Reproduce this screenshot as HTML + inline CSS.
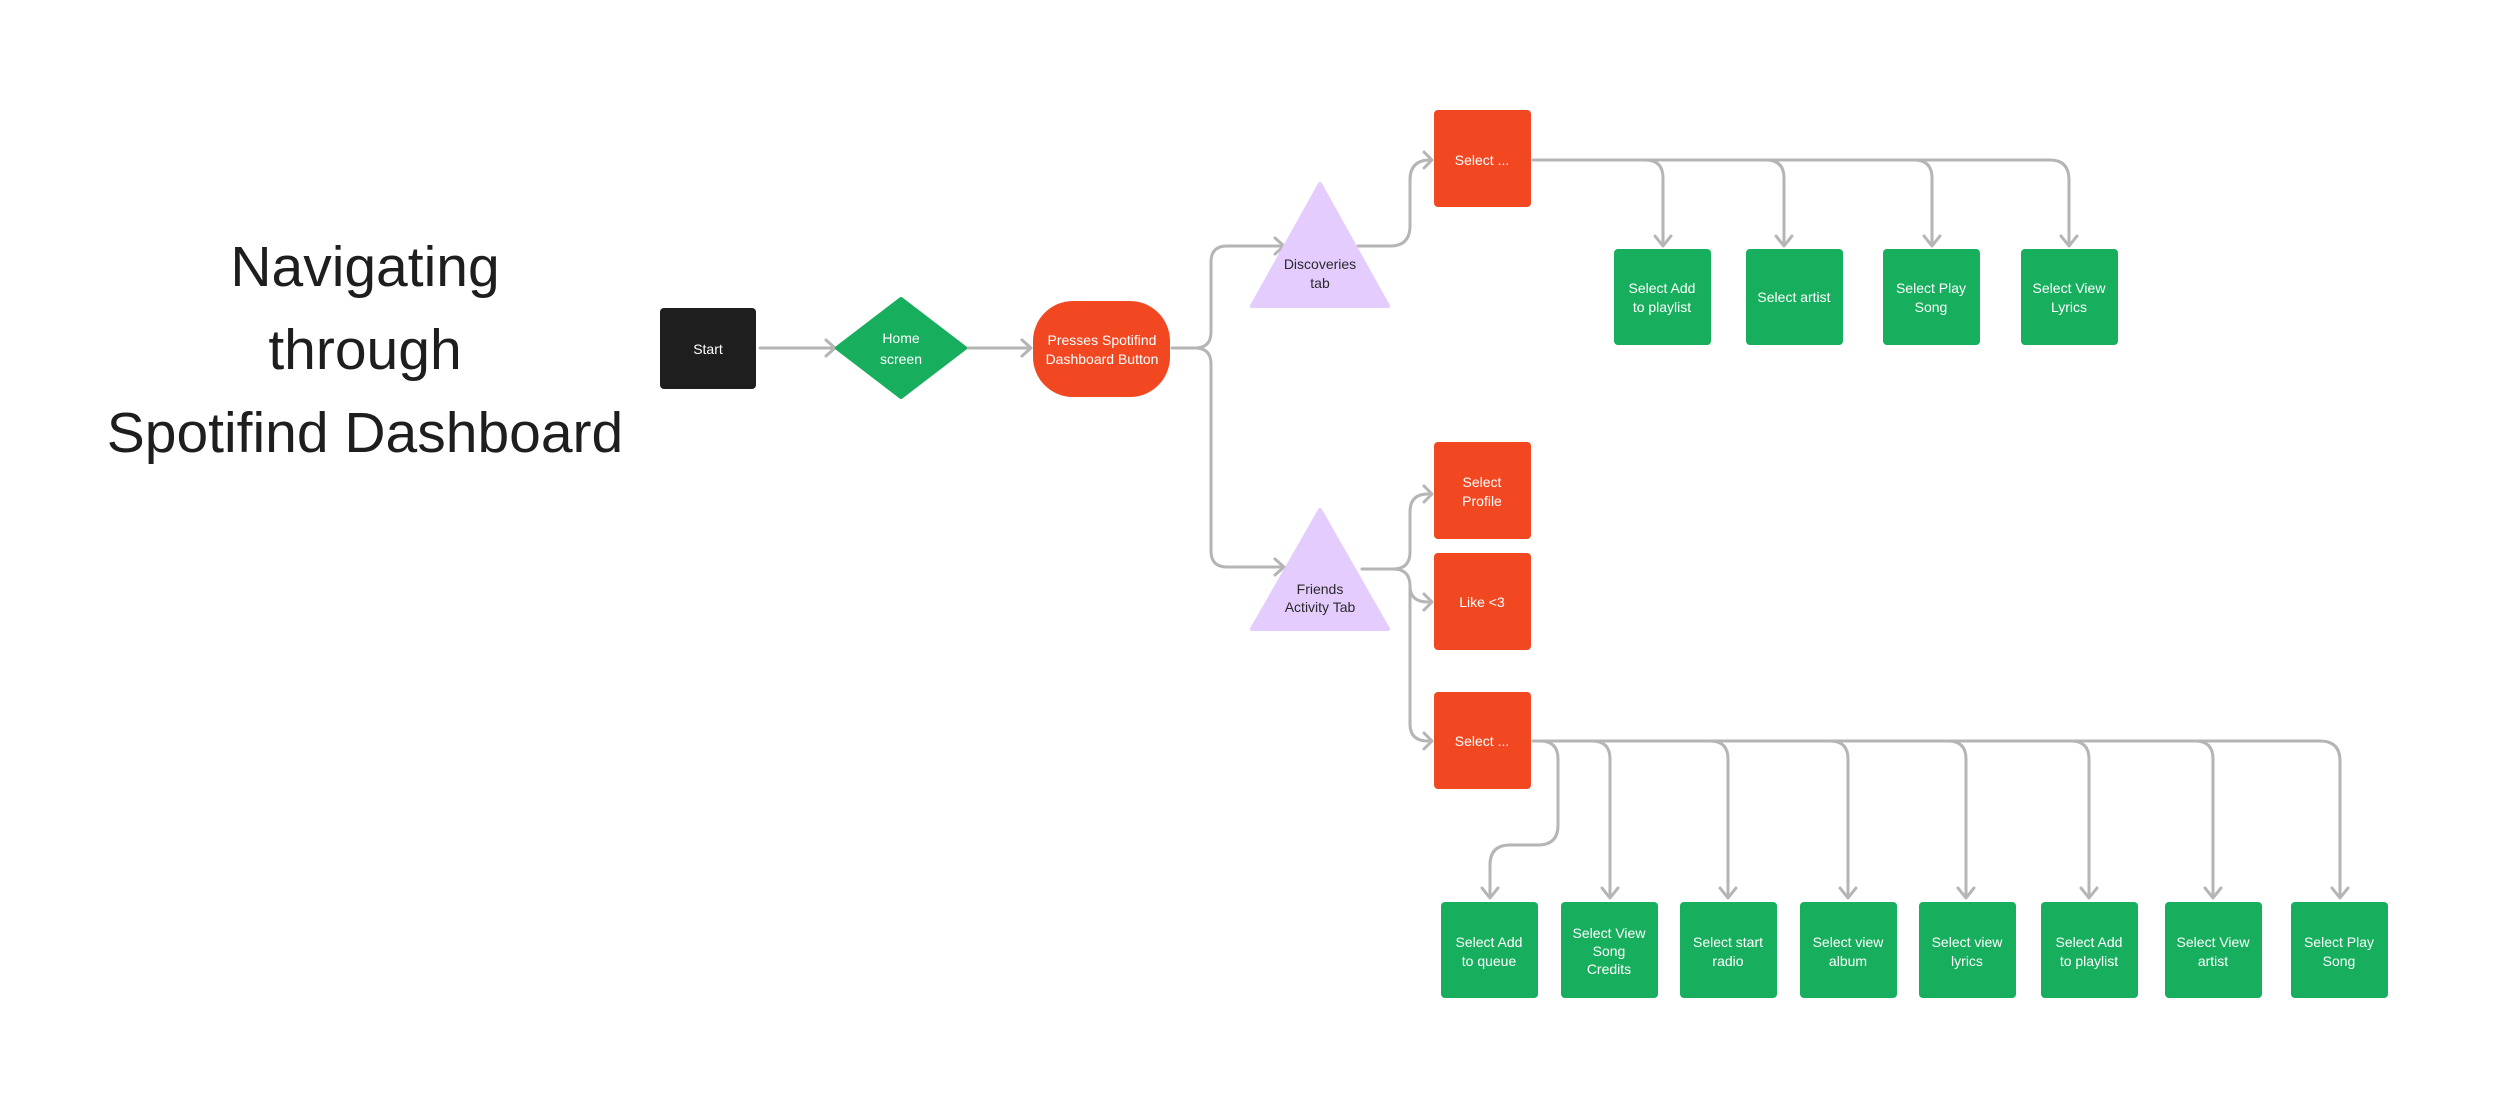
<!DOCTYPE html>
<html><head><meta charset="utf-8"><style>
html,body{margin:0;padding:0;background:#fff;}
svg{display:block;}
text{font-family:"Liberation Sans",sans-serif;}
.w{fill:#fff;font-size:14px;text-anchor:middle;}
.d{fill:#2a2a2a;font-size:14px;text-anchor:middle;}
.c{fill:none;stroke:#b5b5b5;stroke-width:3;stroke-linecap:round;stroke-linejoin:round;}
</style></head><body>
<svg width="2500" height="1110" viewBox="0 0 2500 1110" xmlns="http://www.w3.org/2000/svg">
<rect width="2500" height="1110" fill="#fff"/>
<g style="font-size:57px;fill:#1e1e1e;text-anchor:middle">
<text x="365" y="286">Navigating</text>
<text x="365" y="369">through</text>
<text x="365" y="452">Spotifind Dashboard</text>
</g>

<!-- connectors -->
<g class="c">
<path d="M760 348 H834"/><path d="M826 340 L835 348 L826 356"/>
<path d="M966 348 H1030"/><path d="M1022 340 L1031 348 L1022 356"/>
<path d="M1172 348 H1195 Q1211 348 1211 332 V262 Q1211 246 1227 246 H1283"/><path d="M1275 238 L1284 246 L1275 254"/>
<path d="M1195 348 Q1211 348 1211 364 V551 Q1211 567 1227 567 H1283"/><path d="M1275 559 L1284 567 L1275 575"/>
<path d="M1358 246 H1390 Q1410 246 1410 226 V180 Q1410 160 1430 160"/><path d="M1424 152 L1432 160 L1424 168"/>
<path d="M1533 160 H2050 Q2069 160 2069 180 V245"/>
<path d="M1645 160 Q1663 160 1663 178 V245"/><path d="M1766 160 Q1784 160 1784 178 V245"/><path d="M1914 160 Q1932 160 1932 178 V245"/>
<path d="M1655 236 L1663 246 L1671 236"/><path d="M1776 236 L1784 246 L1792 236"/><path d="M1924 236 L1932 246 L1940 236"/><path d="M2061 236 L2069 246 L2077 236"/>
<path d="M1362 569 H1393 Q1410 569 1410 552 V512 Q1410 494 1428 494"/><path d="M1424 486 L1432 494 L1424 502"/>
<path d="M1393 569 Q1410 569 1410 586 Q1410 602 1428 602"/><path d="M1424 594 L1432 602 L1424 610"/>
<path d="M1410 586 V724 Q1410 741 1428 741"/><path d="M1424 733 L1432 741 L1424 749"/>
<path d="M1533 741 H2320 Q2340 741 2340 761 V897"/>
<path d="M1540 741 Q1558 741 1558 759 V825 Q1558 845 1538 845 H1510 Q1490 845 1490 865 V897"/>
<path d="M1592 741 Q1610 741 1610 759 V897"/><path d="M1710 741 Q1728 741 1728 759 V897"/><path d="M1830 741 Q1848 741 1848 759 V897"/><path d="M1948 741 Q1966 741 1966 759 V897"/><path d="M2071 741 Q2089 741 2089 759 V897"/><path d="M2195 741 Q2213 741 2213 759 V897"/>
<path d="M1482 888 L1490 898 L1498 888"/><path d="M1602 888 L1610 898 L1618 888"/><path d="M1720 888 L1728 898 L1736 888"/><path d="M1840 888 L1848 898 L1856 888"/><path d="M1958 888 L1966 898 L1974 888"/><path d="M2081 888 L2089 898 L2097 888"/><path d="M2205 888 L2213 898 L2221 888"/><path d="M2332 888 L2340 898 L2348 888"/>
</g>

<!-- main nodes -->
<rect x="660" y="308" width="96" height="81" rx="4" fill="#1e1e1e"/>
<text class="w" x="708" y="354">Start</text>
<path d="M901 299 L965 348 L901 397 L837 348 Z" fill="#17ae5d" stroke="#17ae5d" stroke-width="4" stroke-linejoin="round"/>
<text class="w" x="901" y="343">Home</text><text class="w" x="901" y="364">screen</text>
<rect x="1033" y="301" width="137" height="96" rx="40" fill="#f24822"/>
<text class="w" x="1102" y="345">Presses Spotifind</text><text class="w" x="1102" y="364">Dashboard Button</text>

<path d="M1320 184 L1388 306 L1252 306 Z" fill="#e4ccff" stroke="#e4ccff" stroke-width="4" stroke-linejoin="round"/>
<text class="d" x="1320" y="269">Discoveries</text><text class="d" x="1320" y="288">tab</text>
<path d="M1320 510 L1388 629 L1252 629 Z" fill="#e4ccff" stroke="#e4ccff" stroke-width="4" stroke-linejoin="round"/>
<text class="d" x="1320" y="594">Friends</text><text class="d" x="1320" y="612">Activity Tab</text>

<!-- red -->
<g fill="#f24822">
<rect x="1434" y="110" width="97" height="97" rx="4"/>
<rect x="1434" y="442" width="97" height="97" rx="4"/>
<rect x="1434" y="553" width="97" height="97" rx="4"/>
<rect x="1434" y="692" width="97" height="97" rx="4"/>
</g>
<text class="w" x="1482" y="165">Select ...</text>
<text class="w" x="1482" y="487">Select</text><text class="w" x="1482" y="506">Profile</text>
<text class="w" x="1482" y="607">Like &lt;3</text>
<text class="w" x="1482" y="746">Select ...</text>

<!-- green top -->
<g fill="#17ae5d">
<rect x="1614" y="249" width="97" height="96" rx="4"/>
<rect x="1746" y="249" width="97" height="96" rx="4"/>
<rect x="1883" y="249" width="97" height="96" rx="4"/>
<rect x="2021" y="249" width="97" height="96" rx="4"/>
</g>
<text class="w" x="1662" y="293">Select Add</text><text class="w" x="1662" y="312">to playlist</text>
<text class="w" x="1794" y="302">Select artist</text>
<text class="w" x="1931" y="293">Select Play</text><text class="w" x="1931" y="312">Song</text>
<text class="w" x="2069" y="293">Select View</text><text class="w" x="2069" y="312">Lyrics</text>

<!-- green bottom -->
<g fill="#17ae5d">
<rect x="1441" y="902" width="97" height="96" rx="4"/>
<rect x="1561" y="902" width="97" height="96" rx="4"/>
<rect x="1680" y="902" width="97" height="96" rx="4"/>
<rect x="1800" y="902" width="97" height="96" rx="4"/>
<rect x="1919" y="902" width="97" height="96" rx="4"/>
<rect x="2041" y="902" width="97" height="96" rx="4"/>
<rect x="2165" y="902" width="97" height="96" rx="4"/>
<rect x="2291" y="902" width="97" height="96" rx="4"/>
</g>
<text class="w" x="1489" y="947">Select Add</text><text class="w" x="1489" y="966">to queue</text>
<text class="w" x="1609" y="938">Select View</text><text class="w" x="1609" y="956">Song</text><text class="w" x="1609" y="974">Credits</text>
<text class="w" x="1728" y="947">Select start</text><text class="w" x="1728" y="966">radio</text>
<text class="w" x="1848" y="947">Select view</text><text class="w" x="1848" y="966">album</text>
<text class="w" x="1967" y="947">Select view</text><text class="w" x="1967" y="966">lyrics</text>
<text class="w" x="2089" y="947">Select Add</text><text class="w" x="2089" y="966">to playlist</text>
<text class="w" x="2213" y="947">Select View</text><text class="w" x="2213" y="966">artist</text>
<text class="w" x="2339" y="947">Select Play</text><text class="w" x="2339" y="966">Song</text>
</svg>
</body></html>
